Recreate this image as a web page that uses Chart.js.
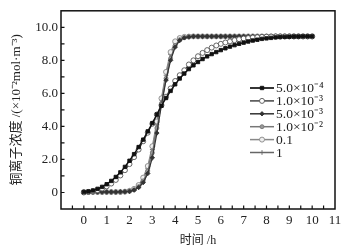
<!DOCTYPE html>
<html>
<head>
<meta charset="utf-8">
<script src="https://cdn.jsdelivr.net/npm/chart.js@4.4.1/dist/chart.umd.min.js"></script>
<style>
  html, body { margin: 0; padding: 0; background: #fff; }
  #wrap { width: 351px; height: 249px; }
</style>
</head>
<body>
<div id="wrap"><canvas id="c" width="351" height="249"></canvas></div>
<script>
// time (h)
const hours = [0, 0.2, 0.4, 0.6, 0.8, 1.0, 1.2, 1.4, 1.6, 1.8, 2.0, 2.2, 2.4, 2.6, 2.8, 3.0, 3.2, 3.4, 3.6, 3.8,
  4.0, 4.2, 4.4, 4.6, 4.8, 5.0, 5.2, 5.4, 5.6, 5.8, 6.0, 6.2, 6.4, 6.6, 6.8, 7.0, 7.2, 7.4, 7.6, 7.8,
  8.0, 8.2, 8.4, 8.6, 8.8, 9.0, 9.2, 9.4, 9.6, 9.8, 10.0];

const seriesNames = ["5.0×10⁻⁴", "1.0×10⁻³", "5.0×10⁻³", "1.0×10⁻²", "0.1", "1"];

// copper ion concentration (x10^-2 mol/m^3)
const c5e4 = [0.02, 0.06, 0.12, 0.22, 0.34, 0.5, 0.7, 0.94, 1.22, 1.55, 1.92, 2.32, 2.75, 3.2, 3.7, 4.2, 4.72, 5.25, 5.72, 6.15,
  6.55, 6.9, 7.2, 7.47, 7.7, 7.9, 8.08, 8.24, 8.38, 8.5, 8.62, 8.73, 8.83, 8.92, 9.0, 9.07, 9.14, 9.2, 9.25, 9.3,
  9.33, 9.36, 9.39, 9.41, 9.42, 9.43, 9.44, 9.44, 9.45, 9.45, 9.45];
const c1e3 = [0.0, 0.03, 0.07, 0.14, 0.24, 0.37, 0.54, 0.76, 1.03, 1.35, 1.72, 2.14, 2.6, 3.1, 3.62, 4.16, 4.72, 5.28, 5.8, 6.3,
  6.75, 7.1, 7.4, 7.75, 8.0, 8.25, 8.45, 8.62, 8.77, 8.9, 9.0, 9.08, 9.15, 9.22, 9.28, 9.32, 9.35, 9.38, 9.4, 9.42,
  9.43, 9.44, 9.45, 9.45, 9.45, 9.45, 9.45, 9.45, 9.45, 9.45, 9.45];
const c5e3 = [0.03, 0.03, 0.03, 0.03, 0.03, 0.03, 0.03, 0.03, 0.04, 0.05, 0.07, 0.14, 0.3, 0.6, 1.15, 2.1, 3.6, 5.3, 6.8, 8.0,
  8.8, 9.2, 9.36, 9.42, 9.45, 9.45, 9.45, 9.45, 9.45, 9.45, 9.45, 9.45, 9.45, 9.45, 9.45, 9.45, 9.45, 9.45, 9.45, 9.45,
  9.45, 9.45, 9.45, 9.45, 9.45, 9.45, 9.45, 9.45, 9.45, 9.45, 9.45];
const c1e2 = [0.02, 0.02, 0.02, 0.02, 0.02, 0.02, 0.02, 0.02, 0.02, 0.04, 0.08, 0.17, 0.35, 0.7, 1.3, 2.4, 3.9, 5.4, 6.9, 8.1,
  8.9, 9.25, 9.38, 9.42, 9.45, 9.45, 9.45, 9.45, 9.45, 9.45, 9.45, 9.45, 9.45, 9.45, 9.45, 9.45, 9.45, 9.45, 9.45, 9.45,
  9.45, 9.45, 9.45, 9.45, 9.45, 9.45, 9.45, 9.45, 9.45, 9.45, 9.45];
const c01 = [0.03, 0.03, 0.03, 0.03, 0.03, 0.03, 0.03, 0.03, 0.03, 0.05, 0.1, 0.22, 0.45, 0.9, 1.6, 2.8, 4.3, 5.7, 7.3, 8.5,
  9.15, 9.35, 9.42, 9.44, 9.45, 9.45, 9.45, 9.45, 9.45, 9.45, 9.45, 9.45, 9.45, 9.45, 9.45, 9.45, 9.45, 9.45, 9.45, 9.45,
  9.45, 9.45, 9.45, 9.45, 9.45, 9.45, 9.45, 9.45, 9.45, 9.45, 9.45];
const c1 = [0.02, 0.02, 0.02, 0.02, 0.02, 0.02, 0.02, 0.02, 0.02, 0.04, 0.08, 0.2, 0.4, 0.8, 1.45, 2.6, 4.1, 5.6, 7.1, 8.35,
  9.05, 9.32, 9.4, 9.44, 9.45, 9.45, 9.45, 9.45, 9.45, 9.45, 9.45, 9.45, 9.45, 9.45, 9.45, 9.45, 9.45, 9.45, 9.45, 9.45,
  9.45, 9.45, 9.45, 9.45, 9.45, 9.45, 9.45, 9.45, 9.45, 9.45, 9.45];

const yTickValues = [0, 2, 4, 6, 8, 10];

const serif = "'Liberation Serif', 'Noto Sans CJK SC', serif";

function pts(values) {
  return values.map((v, i) => ({ x: hours[i], y: v }));
}

const styles = [
  { color: "#111", pointStyle: "rect", fill: "#111", border: "#111", radius: 2.4, width: 1.4 },
  { color: "#444", pointStyle: "circle", fill: "#fff", border: "#555", radius: 2.5, width: 1.2 },
  { color: "#333", pointStyle: "rectRot", fill: "#333", border: "#333", radius: 2.2, width: 1.2 },
  { color: "#777", pointStyle: "circle", fill: "#999", border: "#777", radius: 2.0, width: 1.2 },
  { color: "#888", pointStyle: "circle", fill: "#eee", border: "#888", radius: 2.5, width: 1.2 },
  { color: "#666", pointStyle: "cross", fill: "#666", border: "#666", radius: 2.4, width: 1.2 },
];

const allSeries = [c5e4, c1e3, c5e3, c1e2, c01, c1];

const datasets = allSeries.map((vals, i) => ({
  label: seriesNames[i],
  data: pts(vals),
  borderColor: styles[i].color,
  borderWidth: styles[i].width,
  pointStyle: styles[i].pointStyle,
  pointRadius: styles[i].radius,
  pointBackgroundColor: styles[i].fill,
  pointBorderColor: styles[i].border,
  pointBorderWidth: 0.9,
  tension: 0,
  fill: false,
}));

// frame, inward ticks and legend box
const framePlugin = {
  id: "frame",
  afterDatasetsDraw(chart) {
    const { ctx, chartArea: a, scales } = chart;
    ctx.save();
    ctx.strokeStyle = "#111";
    ctx.lineWidth = 1.5;
    ctx.strokeRect(a.left, a.top, a.right - a.left, a.bottom - a.top);

    ctx.lineWidth = 1.2;
    ctx.beginPath();
    for (let v = -0.5; v <= 10.5; v += 0.5) {
      const x = scales.x.getPixelForValue(v);
      ctx.moveTo(x, a.bottom);
      ctx.lineTo(x, a.bottom - 3.5);
    }
    for (let v = 0; v <= 10; v += 1) {
      const y = scales.y.getPixelForValue(v);
      ctx.moveTo(a.left, y);
      ctx.lineTo(a.left + 3.5, y);
    }
    ctx.stroke();

    // legend
    const x0 = 250, x1 = 274, top = 88, step = 12.9;
    ctx.font = "13.5px " + serif;
    ctx.textBaseline = "middle";
    ctx.textAlign = "left";
    chart.data.datasets.forEach((ds, i) => {
      const y = top + i * step;
      ctx.strokeStyle = ds.borderColor;
      ctx.lineWidth = ds.borderWidth + 0.3;
      ctx.beginPath();
      ctx.moveTo(x0, y);
      ctx.lineTo(x1, y);
      ctx.stroke();
      ctx.fillStyle = ds.pointBackgroundColor;
      ctx.strokeStyle = ds.pointBorderColor;
      ctx.lineWidth = 0.9;
      Chart.helpers.drawPoint(ctx, { pointStyle: ds.pointStyle, radius: ds.pointRadius, borderWidth: 0.9, rotation: 0 }, (x0 + x1) / 2, y);
      ctx.fillStyle = "#222";
      ctx.fillText(ds.label, x1 + 2, y + 0.5);
    });
    ctx.restore();
  },
};

new Chart(document.getElementById("c"), {
  type: "line",
  data: { datasets: datasets },
  options: {
    responsive: false,
    animation: false,
    devicePixelRatio: 1,
    layout: { padding: { left: 0, right: 16, top: 6, bottom: 0 } },
    plugins: {
      legend: { display: false },
      tooltip: { enabled: false },
    },
    scales: {
      x: {
        type: "linear",
        min: -1,
        max: 11,
        afterFit(scale) { scale.height = 40; },
        grid: { display: false, drawTicks: false },
        border: { display: false },
        ticks: {
          stepSize: 1,
          padding: 4,
          color: "#222",
          font: { family: serif, size: 13 },
          callback: (v) => (v < 0 ? "" : String(v)),
        },
        title: {
          display: true,
          text: "时间 /h",
          color: "#222",
          font: { family: serif, size: 12 },
          padding: { top: 0, bottom: 1 },
        },
      },
      y: {
        type: "linear",
        min: -1,
        max: 11,
        afterFit(scale) { scale.width = 61; },
        afterBuildTicks(scale) { scale.ticks = yTickValues.map((v) => ({ value: v })); },
        grid: { display: false, drawTicks: false },
        border: { display: false },
        ticks: {
          padding: 3,
          color: "#222",
          font: { family: serif, size: 13 },
          callback: (v) => (v === 0 ? "0" : v.toFixed(1)),
        },
        title: {
          display: true,
          text: "铜离子浓度 /(×10⁻²mol·m⁻³)",
          color: "#222",
          font: { family: serif, size: 13 },
          padding: { top: 9, bottom: 0 },
        },
      },
    },
  },
  plugins: [framePlugin],
});
</script>
</body>
</html>
